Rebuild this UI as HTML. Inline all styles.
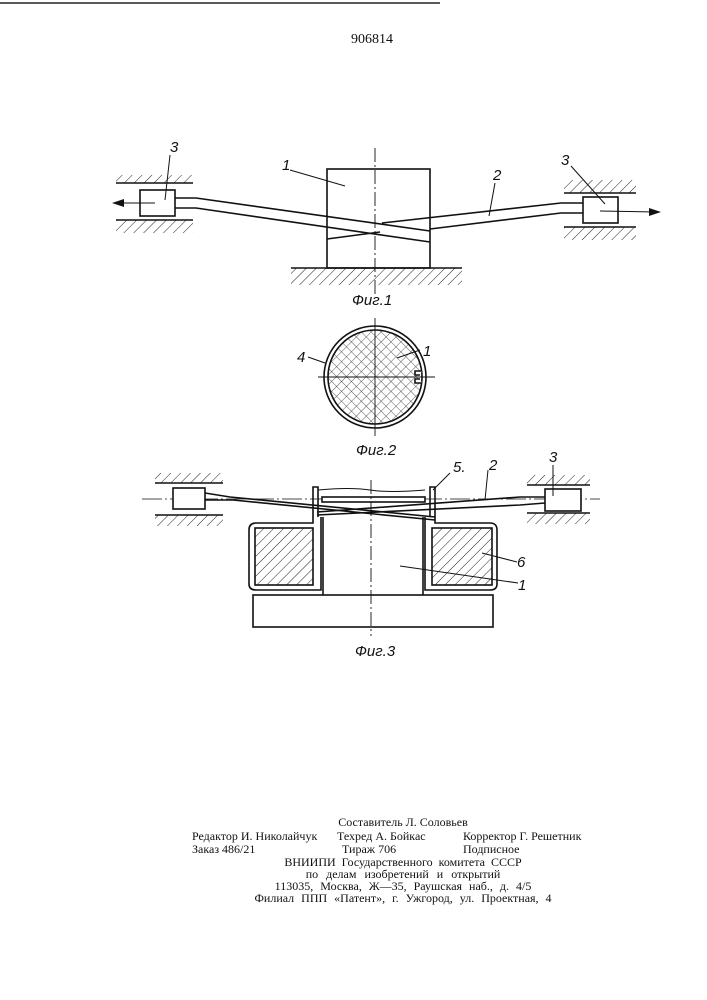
<!DOCTYPE html>
<html><head><meta charset="utf-8"><style>
html,body{margin:0;padding:0;background:#fff;}
svg{display:block;}
text{font-family:"Liberation Serif",serif;fill:#111;}
.l{font-family:"Liberation Sans",sans-serif;font-style:italic;font-size:15px;}
</style></head><body>
<svg width="707" height="1000" viewBox="0 0 707 1000" xmlns="http://www.w3.org/2000/svg">
<defs>
<pattern id="h" width="7" height="7" patternUnits="userSpaceOnUse" patternTransform="rotate(45)">
<line x1="0" y1="0" x2="0" y2="7" stroke="#222" stroke-width="1"/></pattern>
<pattern id="x" width="7" height="7" patternUnits="userSpaceOnUse" patternTransform="rotate(45)">
<line x1="0" y1="0" x2="0" y2="7" stroke="#333" stroke-width="0.8"/><line x1="0" y1="0" x2="7" y2="0" stroke="#333" stroke-width="0.8"/></pattern>
</defs>
<line x1="0" y1="3" x2="440" y2="3" stroke="#222" stroke-width="1.5"/>
<text x="372" y="43" font-size="14" text-anchor="middle">906814</text>
<g stroke="#111" fill="none" stroke-width="1.6">
<rect x="116" y="175" width="77" height="8" fill="url(#h)" stroke="none"/>
<line x1="116" y1="183" x2="193" y2="183"/>
<rect x="116" y="220" width="77" height="13" fill="url(#h)" stroke="none"/>
<line x1="116" y1="220" x2="193" y2="220"/>
<rect x="564" y="180" width="72" height="13" fill="url(#h)" stroke="none"/>
<line x1="564" y1="193" x2="636" y2="193"/>
<rect x="564" y="227" width="72" height="13" fill="url(#h)" stroke="none"/>
<line x1="564" y1="227" x2="636" y2="227"/>
<rect x="140" y="190" width="35" height="26"/>
<rect x="583" y="197" width="35" height="26"/>
<rect x="327" y="169" width="103" height="99"/>
<rect x="291" y="268" width="171" height="17" fill="url(#h)" stroke="none"/>
<line x1="291" y1="268" x2="462" y2="268"/>
<polyline points="175,198 196,198 430,231"/>
<polyline points="175,208 196,208 430,242"/>
<polyline points="583,203 561,203 382,223"/>
<polyline points="583,213 561,213 430,229"/>
<line x1="327" y1="239" x2="380" y2="232"/>
<line x1="375" y1="148" x2="375" y2="295" stroke-width="0.9" stroke-dasharray="14,3,2,3"/>
<line x1="155" y1="203" x2="118" y2="203" stroke-width="1"/>
<line x1="600" y1="211" x2="655" y2="212" stroke-width="1"/>
<line x1="290" y1="170" x2="345" y2="186" stroke-width="1"/>
<line x1="170" y1="155" x2="165" y2="200" stroke-width="1"/>
<line x1="495" y1="183" x2="489" y2="216" stroke-width="1"/>
<line x1="571" y1="166" x2="605" y2="204" stroke-width="1"/>
</g>
<polygon points="112,203 124,199 124,207" fill="#111"/>
<polygon points="661,212 649,208 649,216" fill="#111"/>
<text class="l" x="170" y="152">3</text>
<text class="l" x="282" y="170">1</text>
<text class="l" x="493" y="180">2</text>
<text class="l" x="561" y="165">3</text>
<text class="l" x="352" y="305" font-size="14">Фиг.1</text>
<g stroke="#111" fill="none" stroke-width="1.6">
<circle cx="375" cy="377" r="51"/>
<circle cx="375" cy="377" r="47" fill="url(#x)"/>
<line x1="375" y1="318" x2="375" y2="436" stroke-width="0.9"/>
<line x1="318" y1="377" x2="435" y2="377" stroke-width="0.9"/>
<path d="M422,371 h-7 v4 h5 M422,383 h-7 v-4 h5" fill="#fff"/>
<line x1="308" y1="357" x2="325" y2="363" stroke-width="1"/>
<line x1="420" y1="350" x2="397" y2="358" stroke-width="1"/>
</g>
<text class="l" x="297" y="362">4</text>
<text class="l" x="423" y="356">1</text>
<text class="l" x="356" y="455" font-size="14">Фиг.2</text>
<g stroke="#111" fill="none" stroke-width="1.6">
<rect x="155" y="473" width="68" height="10" fill="url(#h)" stroke="none"/>
<line x1="155" y1="483" x2="223" y2="483"/>
<rect x="155" y="515" width="68" height="11" fill="url(#h)" stroke="none"/>
<line x1="155" y1="515" x2="223" y2="515"/>
<rect x="527" y="475" width="63" height="10" fill="url(#h)" stroke="none"/>
<line x1="527" y1="485" x2="590" y2="485"/>
<rect x="527" y="513" width="63" height="11" fill="url(#h)" stroke="none"/>
<line x1="527" y1="513" x2="590" y2="513"/>
<line x1="142" y1="499" x2="600" y2="499" stroke-width="0.8" stroke-dasharray="20,3,2,3"/>
<rect x="173" y="488" width="32" height="21" fill="#fff"/>
<rect x="545" y="489" width="36" height="22" fill="#fff"/>
<path d="M313,517 V487 H318 V517"/>
<path d="M430,517 V487 H435 V517"/>
<path d="M318,490 Q350,487 370,490 T425,490" stroke-width="1"/>
<rect x="322" y="497" width="103" height="5" fill="#fff"/>
<polyline points="205,493 230,497 435,517"/>
<polyline points="205,500 233,500 435,520"/>
<polyline points="545,497 520,497 317,512"/>
<polyline points="545,503 520,505 317,515"/>
<path d="M313,517 V523 H256 Q249,523 249,530 V584 Q249,590 256,590 H321 V517"/>
<path d="M435,517 V523 H490 Q497,523 497,530 V584 Q497,590 490,590 H425 V517"/>
<rect x="255" y="528" width="58" height="57" fill="url(#h)"/>
<rect x="432" y="528" width="60" height="57" fill="url(#h)"/>
<line x1="323" y1="517" x2="323" y2="595"/>
<line x1="423" y1="517" x2="423" y2="595"/>
<rect x="253" y="595" width="240" height="32"/>
<line x1="371" y1="480" x2="371" y2="636" stroke-width="0.9" stroke-dasharray="14,3,2,3"/>
<line x1="450" y1="473" x2="433" y2="490" stroke-width="1"/>
<line x1="488" y1="470" x2="485" y2="500" stroke-width="1"/>
<line x1="553" y1="465" x2="553" y2="496" stroke-width="1"/>
<line x1="517" y1="562" x2="482" y2="553" stroke-width="1"/>
<line x1="518" y1="583" x2="400" y2="566" stroke-width="1"/>
</g>
<text class="l" x="453" y="472">5.</text>
<text class="l" x="489" y="470">2</text>
<text class="l" x="549" y="462">3</text>
<text class="l" x="517" y="567">6</text>
<text class="l" x="518" y="590">1</text>
<text class="l" x="355" y="656" font-size="14">Фиг.3</text>
<g font-size="12">
<text x="403" y="826" text-anchor="middle">Составитель Л. Соловьев</text>
<text x="192" y="840">Редактор И. Николайчук</text>
<text x="337" y="840">Техред А. Бойкас</text>
<text x="463" y="840">Корректор Г. Решетник</text>
<text x="192" y="853">Заказ 486/21</text>
<text x="342" y="853">Тираж 706</text>
<text x="463" y="853">Подписное</text>
<text x="403" y="866" text-anchor="middle" word-spacing="3">ВНИИПИ Государственного комитета СССР</text>
<text x="403" y="878" text-anchor="middle" word-spacing="5">по делам изобретений и открытий</text>
<text x="403" y="890" text-anchor="middle" word-spacing="4">113035, Москва, Ж—35, Раушская наб., д. 4/5</text>
<text x="403" y="902" text-anchor="middle" word-spacing="4">Филиал ППП «Патент», г. Ужгород, ул. Проектная, 4</text>
</g>
</svg>
</body></html>
